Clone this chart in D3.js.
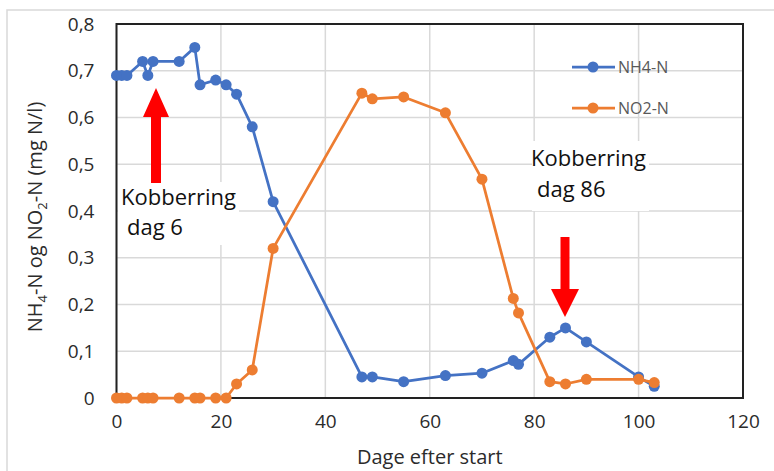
<!DOCTYPE html>
<html>
<head>
<meta charset="utf-8">
<script src="https://cdn.jsdelivr.net/npm/d3@7"></script>
<style>
  body { margin: 0; background: #fff; }
  text { font-family: "Open Sans", sans-serif; }
</style>
</head>
<body>
<svg id="chart" width="774" height="471"></svg>
<script>
// days after start, same sampling for both series
const days = [0, 1, 2, 5, 6, 7, 12, 15, 16, 19, 21, 23, 26, 30, 47, 49, 55, 63, 70, 76, 77, 83, 86, 90, 100, 103];
const nh4 = [0.69, 0.69, 0.69, 0.72, 0.69, 0.72, 0.72, 0.75, 0.67, 0.68, 0.67, 0.65, 0.58, 0.42,
  0.045, 0.045, 0.035, 0.048, 0.053, 0.08, 0.072, 0.13, 0.15, 0.12, 0.045, 0.025];
const no2 = [0, 0, 0, 0, 0, 0, 0, 0, 0, 0, 0, 0.03, 0.06, 0.32,
  0.652, 0.64, 0.644, 0.61, 0.468, 0.213, 0.182, 0.035, 0.03, 0.04, 0.04, 0.033];

const xTicks = [0, 20, 40, 60, 80, 100, 120];
const yTicks = [0, 0.1, 0.2, 0.3, 0.4, 0.5, 0.6, 0.7, 0.8];

const seriesNames = ['NH4-N', 'NO2-N'];
const colors = { 'NH4-N': '#4472C4', 'NO2-N': '#ED7D31' };

const svg = d3.select('#chart');

const x = d3.scaleLinear().domain([0, 120]).range([116.5, 743]);
const y = d3.scaleLinear().domain([0, 0.8]).range([398, 24]);

// outer chart frame
svg.append('rect')
  .attr('x', 7).attr('y', 10).attr('width', 800).attr('height', 500)
  .attr('fill', 'none').attr('stroke', '#d9d9d9').attr('stroke-width', 1.5);

// gridlines
const grid = svg.append('g');
grid.selectAll('.hg').data(yTicks).join('line')
  .attr('x1', x(0)).attr('x2', x(120))
  .attr('y1', d => y(d)).attr('y2', d => y(d))
  .attr('stroke', '#d9d9d9').attr('stroke-width', 1.5);
grid.selectAll('.vg').data(xTicks).join('line')
  .attr('x1', d => x(d)).attr('x2', d => x(d))
  .attr('y1', y(0)).attr('y2', y(0.8))
  .attr('stroke', '#d9d9d9').attr('stroke-width', 1.5);

// white boxes behind the annotation texts
svg.append('rect').attr('x', 118).attr('y', 182).attr('width', 121).attr('height', 63).attr('fill', '#fff');
svg.append('rect').attr('x', 532).attr('y', 141).attr('width', 117).attr('height', 70).attr('fill', '#fff');

// plot border
svg.append('rect')
  .attr('x', x(0)).attr('y', y(0.8))
  .attr('width', x(120) - x(0)).attr('height', y(0) - y(0.8))
  .attr('fill', 'none').attr('stroke', '#222').attr('stroke-width', 2);

// axes (labels only)
const fmt = d => d === 0 ? '0' : d3.format('.1f')(d).replace('.', ',');
const yAxis = svg.append('g')
  .attr('transform', `translate(${x(0) - 14},0)`)
  .call(d3.axisLeft(y).tickValues(yTicks).tickFormat(fmt).tickSize(0).tickPadding(8));
const xAxis = svg.append('g')
  .attr('transform', `translate(0,${y(0) + 12})`)
  .call(d3.axisBottom(x).tickValues(xTicks).tickSize(0).tickPadding(4));
[yAxis, xAxis].forEach(a => {
  a.select('.domain').remove();
  a.selectAll('text')
    .style('font-family', '"Open Sans", sans-serif')
    .style('font-size', '19px')
    .attr('fill', '#2b2b2b');
});

// axis titles
svg.append('text')
  .attr('x', (x(0) + x(120)) / 2).attr('y', 464)
  .attr('text-anchor', 'middle')
  .attr('font-size', 20).attr('fill', '#2b2b2b')
  .text('Dage efter start');

const yt = svg.append('text')
  .attr('transform', 'translate(42,217) rotate(-90)')
  .attr('text-anchor', 'middle')
  .attr('font-size', 20).attr('fill', '#2b2b2b');
yt.append('tspan').text('NH');
yt.append('tspan').attr('font-size', 13).attr('dy', 5).text('4');
yt.append('tspan').attr('dy', -5).text('-N og NO');
yt.append('tspan').attr('font-size', 13).attr('dy', 5).text('2');
yt.append('tspan').attr('dy', -5).text('-N (mg N/l)');

// series
const series = [
  { name: 'NH4-N', values: nh4 },
  { name: 'NO2-N', values: no2 },
];
const line = d3.line().x(d => x(d[0])).y(d => y(d[1]));

series.forEach(s => {
  const pts = days.map((d, i) => [d, s.values[i]]);
  svg.append('path')
    .attr('d', line(pts))
    .attr('fill', 'none')
    .attr('stroke', colors[s.name])
    .attr('stroke-width', 2.75)
    .attr('stroke-linejoin', 'round');
  svg.append('g').selectAll('circle').data(pts).join('circle')
    .attr('cx', d => x(d[0])).attr('cy', d => y(d[1]))
    .attr('r', 5.5)
    .attr('fill', colors[s.name]);
});

// legend
const legend = svg.append('g');
seriesNames.forEach((name, i) => {
  const ly = 67 + i * 41;
  legend.append('line')
    .attr('x1', 572).attr('x2', 615).attr('y1', ly).attr('y2', ly)
    .attr('stroke', colors[name]).attr('stroke-width', 2.75);
  legend.append('circle')
    .attr('cx', 593).attr('cy', ly).attr('r', 5.5).attr('fill', colors[name]);
  legend.append('text')
    .attr('x', 618).attr('y', ly + 6)
    .attr('font-size', 16).attr('fill', '#595959')
    .text(name);
});

// red arrows
function arrow(tipX, tipY, dir, headLen, headHalf, shaftHalf, shaftLen) {
  // dir = -1 points up, +1 points down
  const b = tipY - dir * headLen;
  const e = b - dir * shaftLen;
  const p = [
    [tipX, tipY], [tipX + headHalf, b], [tipX + shaftHalf, b], [tipX + shaftHalf, e],
    [tipX - shaftHalf, e], [tipX - shaftHalf, b], [tipX - headHalf, b],
  ];
  svg.append('polygon').attr('points', p.map(q => q.join(',')).join(' ')).attr('fill', '#ff0000');
}
arrow(156, 88, -1, 29, 13, 5, 66);
arrow(565, 317, 1, 28, 14, 4.5, 52);

// annotation texts
const notes = [
  { lines: ['Kobberring', 'dag 6'], x: [121, 127], y: [205, 235] },
  { lines: ['Kobberring', 'dag 86'], x: [531, 537], y: [166, 197] },
];
notes.forEach(n => {
  n.lines.forEach((t, i) => {
    svg.append('text')
      .attr('x', n.x[i]).attr('y', n.y[i])
      .attr('font-size', 22).attr('fill', '#111')
      .text(t);
  });
});
</script>
</body>
</html>
